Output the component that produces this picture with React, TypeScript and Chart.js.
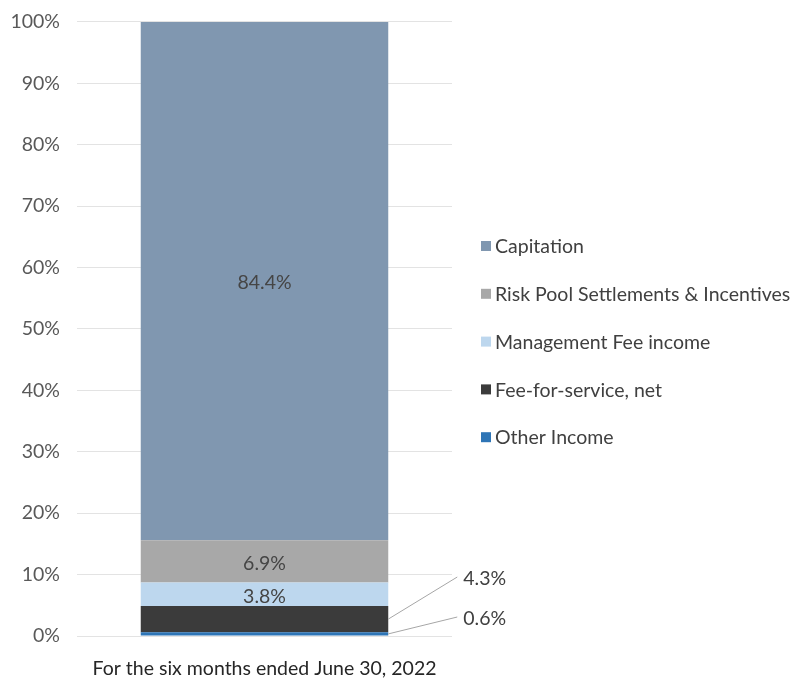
import React, { useEffect, useRef } from "react";
import { Chart, registerables } from "chart.js";

Chart.register(...registerables);

const categories = ["For the six months ended June 30, 2022"];
const seriesNames = [
  "Other Income",
  "Fee-for-service, net",
  "Management Fee income",
  "Risk Pool Settlements & Incentives",
  "Capitation",
];
const otherIncome = [0.6];
const feeForService = [4.3];
const managementFee = [3.8];
const riskPool = [6.9];
const capitation = [84.4];
const seriesColors = ["#2e75b6", "#3b3b3b", "#bdd7ee", "#a8a8a8", "#8097b0"];
const yTicks = [0, 10, 20, 30, 40, 50, 60, 70, 80, 90, 100];
// datasets whose labels are drawn as callouts outside the bar
const calloutSeries = ["Other Income", "Fee-for-service, net"];

const FONT = "Lato, 'Open Sans', sans-serif";
const FS = 19.5;

const labelPlugin = {
  id: "customLabels",
  afterDatasetsDraw(chart: any) {
    const ctx = chart.ctx;
    ctx.save();
    ctx.font = `${FS}px ${FONT}`;
    ctx.textBaseline = "middle";
    chart.data.datasets.forEach((ds: any, i: number) => {
      const meta = chart.getDatasetMeta(i);
      meta.data.forEach((bar: any, j: number) => {
        const v = ds.data[j];
        const text = v.toFixed(1) + "%";
        const cy = (bar.y + bar.base) / 2;
        const right = bar.x + bar.width / 2;
        if (calloutSeries.includes(ds.label)) {
          const idx = calloutSeries.indexOf(ds.label);
          const ty = idx === 0 ? 617 : 577;
          const lx = right + 69;
          ctx.strokeStyle = "#a6a6a6";
          ctx.lineWidth = 1;
          ctx.beginPath();
          ctx.moveTo(right, cy);
          ctx.lineTo(lx, ty);
          ctx.stroke();
          ctx.fillStyle = "#404040";
          ctx.textAlign = "left";
          ctx.fillText(text, lx + 6, ty + 2);
        } else {
          ctx.fillStyle = "#454545";
          ctx.textAlign = "center";
          ctx.fillText(text, bar.x, cy + 2);
        }
      });
    });
    ctx.restore();
  },
  afterDraw(chart: any) {
    const ctx = chart.ctx;
    ctx.save();
    ctx.font = `${FS}px ${FONT}`;
    ctx.textBaseline = "middle";
    ctx.textAlign = "left";
    const ds = chart.data.datasets.slice().reverse();
    ds.forEach((d: any, k: number) => {
      const y = 246 + k * 47.8;
      ctx.fillStyle = d.backgroundColor;
      ctx.fillRect(481, y - 5, 10, 10);
      ctx.fillStyle = "#404040";
      ctx.fillText(d.label, 495, y + 1);
    });
    ctx.restore();
  },
};

export default function App() {
  const ref = useRef<HTMLCanvasElement | null>(null);
  useEffect(() => {
    if (!ref.current) return;
    const values = [otherIncome, feeForService, managementFee, riskPool, capitation];
    const chart = new Chart(ref.current, {
      type: "bar",
      data: {
        labels: categories,
        datasets: seriesNames.map((name, i) => ({
          label: name,
          data: values[i],
          backgroundColor: seriesColors[i],
          borderWidth: 0,
          categoryPercentage: 1,
          barPercentage: 0.66,
        })),
      },
      options: {
        animation: false,
        responsive: false,
        layout: { padding: { top: 0, right: 342, bottom: 0, left: 0 } },
        plugins: {
          legend: { display: false },
          tooltip: { enabled: false },
        },
        scales: {
          x: {
            stacked: true,
            grid: { display: false, drawTicks: false },
            border: { display: false },
            ticks: {
              padding: 21,
              color: "#262626",
              font: { family: FONT, size: FS },
            },
            afterFit: (scale: any) => {
              scale.height = 47;
            },
          },
          y: {
            stacked: true,
            min: 0,
            max: 100,
            afterBuildTicks: (scale: any) => {
              scale.ticks = yTicks.map((v) => ({ value: v }));
            },
            grid: { color: "#e3e3e3", drawTicks: false, lineWidth: 1 },
            border: { display: false },
            ticks: {
              padding: 17,
              color: "#595959",
              font: { family: FONT, size: FS, lineHeight: 0.5 },
              callback: (v: any) => v + "%",
            },
            afterFit: (scale: any) => {
              scale.width = 77;
            },
          },
        },
      },
      plugins: [labelPlugin],
    });
    return () => chart.destroy();
  }, []);
  return (
    <div style={{ position: "absolute", left: 0, top: 0, width: 794, height: 683, background: "#fff" }}>
      <canvas ref={ref} width={794} height={683} style={{ display: "block" }} />
    </div>
  );
}
